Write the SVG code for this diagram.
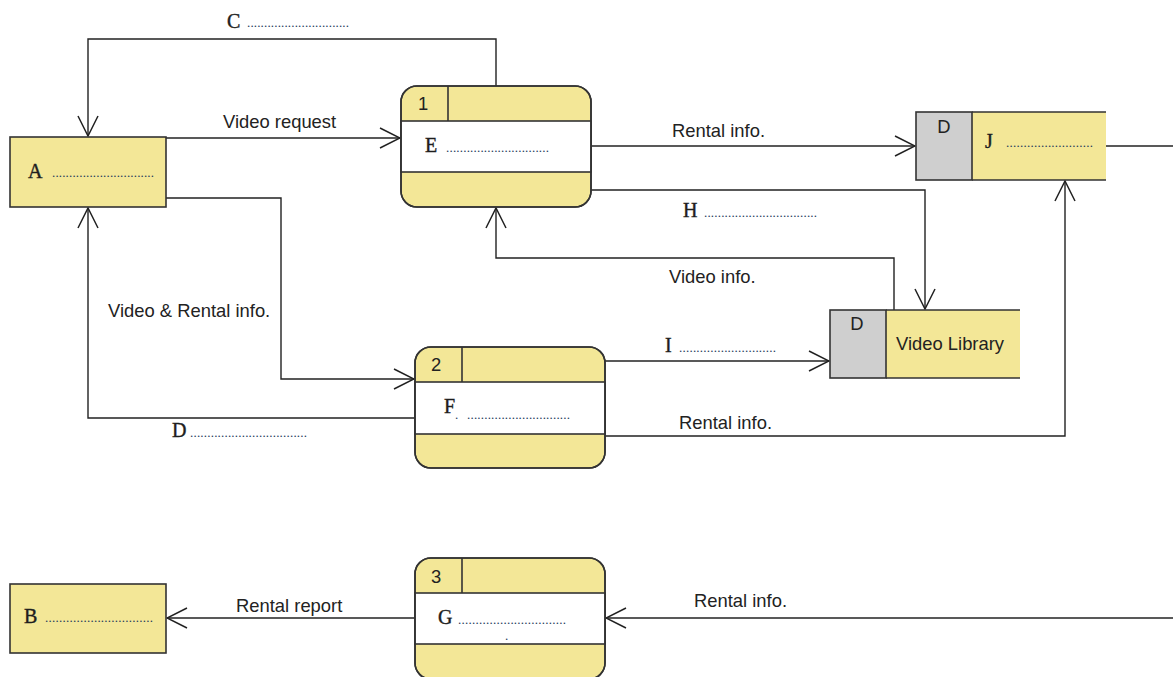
<svg xmlns="http://www.w3.org/2000/svg" width="1173" height="677" viewBox="0 0 1173 677">
<defs>
<marker id="arr" viewBox="0 0 22 22" refX="21" refY="11" markerWidth="22" markerHeight="22" markerUnits="userSpaceOnUse" orient="auto">
<path d="M1,1 L21,11 L1,21" fill="none" stroke="#222" stroke-width="1.5"/>
</marker>
</defs>
<style>
.box{fill:#f3e797;stroke:#333;stroke-width:1.6}
.band{fill:#fff;stroke:#333;stroke-width:1.6}
.grey{fill:#cfcfcf;stroke:#333;stroke-width:1.6}
.ln{fill:none;stroke:#333;stroke-width:1.6}
.con{fill:none;stroke:#222;stroke-width:1.4}
.sans{font-family:"Liberation Sans",Arial,sans-serif;font-size:18.4px;fill:#222}
.ser{font-family:"Liberation Serif","Times New Roman",serif;font-size:20px;fill:#1e1e1e;stroke:#1e1e1e;stroke-width:0.4}
.dots{font-family:"Liberation Serif","Times New Roman",serif;font-size:13px;fill:#243a5a}
</style>
<rect width="1173" height="677" fill="#fff"/>

<g id="connectors">
<path class="con" d="M496,86 V39 H88 V136" marker-end="url(#arr)"/>
<path class="con" d="M166,138 H400" marker-end="url(#arr)"/>
<path class="con" d="M166,198 H281 V379 H414" marker-end="url(#arr)"/>
<path class="con" d="M415,418 H88 V208" marker-end="url(#arr)"/>
<path class="con" d="M591,146 H915" marker-end="url(#arr)"/>
<path class="con" d="M591,190 H925 V309" marker-end="url(#arr)"/>
<path class="con" d="M894,310 V258 H496 V208" marker-end="url(#arr)"/>
<path class="con" d="M605,361 H829" marker-end="url(#arr)"/>
<path class="con" d="M605,436 H1065 V181" marker-end="url(#arr)"/>
<path class="con" d="M1106,146 H1173"/>
<path class="con" d="M1173,618 H606" marker-end="url(#arr)"/>
<path class="con" d="M415,618 H167" marker-end="url(#arr)"/>

<text class="ser" x="227" y="28">C</text>
<text class="dots" x="247" y="27" textLength="102" lengthAdjust="spacing">..............................</text>
<text class="sans" x="223" y="128">Video request</text>
<text class="sans" x="108" y="317">Video &amp; Rental info.</text>
<text class="ser" x="172" y="437">D</text>
<text class="dots" x="190" y="437" textLength="117" lengthAdjust="spacing">..................................</text>
<text class="sans" x="672" y="137">Rental info.</text>
<text class="ser" x="683" y="217">H</text>
<text class="dots" x="704" y="217" textLength="113" lengthAdjust="spacing">.................................</text>
<text class="sans" x="669" y="283">Video info.</text>
<text class="ser" x="665" y="352">I</text>
<text class="dots" x="679" y="352" textLength="97" lengthAdjust="spacing">............................</text>
<text class="sans" x="679" y="429">Rental info.</text>
<text class="sans" x="694" y="607">Rental info.</text>
<text class="sans" x="236" y="612">Rental report</text>
</g>

<g id="entity-A">
<rect class="box" x="10" y="137" width="156" height="70"/>
<text class="ser" x="28" y="178">A</text>
<text class="dots" x="52" y="177" textLength="102" lengthAdjust="spacing">..............................</text>
</g>

<g id="entity-B">
<rect class="box" x="10" y="584" width="156" height="69"/>
<text class="ser" x="24" y="623">B</text>
<text class="dots" x="45" y="622" textLength="108" lengthAdjust="spacing">...............................</text>
</g>

<g id="process-1">
<rect class="box" x="401" y="86" width="190" height="121" rx="16"/>
<rect class="band" x="401" y="121" width="190" height="51"/>
<line class="ln" x1="448" y1="86" x2="448" y2="121"/>
<rect x="401" y="86" width="190" height="121" rx="16" fill="none" stroke="#333" stroke-width="1.6"/>
<text class="sans" x="418" y="110">1</text>
<text class="ser" x="425" y="152">E</text>
<text class="dots" x="446" y="152" textLength="103" lengthAdjust="spacing">..............................</text>
</g>

<g id="process-2">
<rect class="box" x="415" y="347" width="190" height="121" rx="16"/>
<rect class="band" x="415" y="382" width="190" height="52"/>
<line class="ln" x1="462" y1="347" x2="462" y2="382"/>
<rect x="415" y="347" width="190" height="121" rx="16" fill="none" stroke="#333" stroke-width="1.6"/>
<text class="sans" x="431" y="371">2</text>
<text class="ser" x="444" y="413">F</text>
<text class="dots" x="455" y="419">.</text>
<text class="dots" x="467" y="419" textLength="103" lengthAdjust="spacing">..............................</text>
</g>

<g id="process-3">
<rect class="box" x="415" y="558" width="190" height="121" rx="16"/>
<rect class="band" x="415" y="593" width="190" height="51"/>
<line class="ln" x1="462" y1="558" x2="462" y2="593"/>
<rect x="415" y="558" width="190" height="121" rx="16" fill="none" stroke="#333" stroke-width="1.6"/>
<text class="sans" x="431" y="583">3</text>
<text class="ser" x="438" y="624">G</text>
<text class="dots" x="458" y="624" textLength="108" lengthAdjust="spacing">...............................</text>
<text class="dots" x="505" y="640">.</text>
</g>

<g id="store-J">
<rect x="972" y="112" width="134" height="68" fill="#f3e797"/>
<rect class="grey" x="916" y="112" width="56" height="68"/>
<path class="ln" d="M972,112 H1106 M972,180 H1106"/>
<text class="sans" x="944" y="133" text-anchor="middle">D</text>
<text class="ser" x="985" y="148">J</text>
<text class="dots" x="1006" y="147" textLength="87" lengthAdjust="spacing">.........................</text>
</g>

<g id="store-video-library">
<rect x="886" y="310" width="134" height="68" fill="#f3e797"/>
<rect class="grey" x="830" y="310" width="56" height="68"/>
<path class="ln" d="M886,310 H1020 M886,378 H1020"/>
<text class="sans" x="857" y="330" text-anchor="middle">D</text>
<text class="sans" x="896" y="350">Video Library</text>
</g>
</svg>
